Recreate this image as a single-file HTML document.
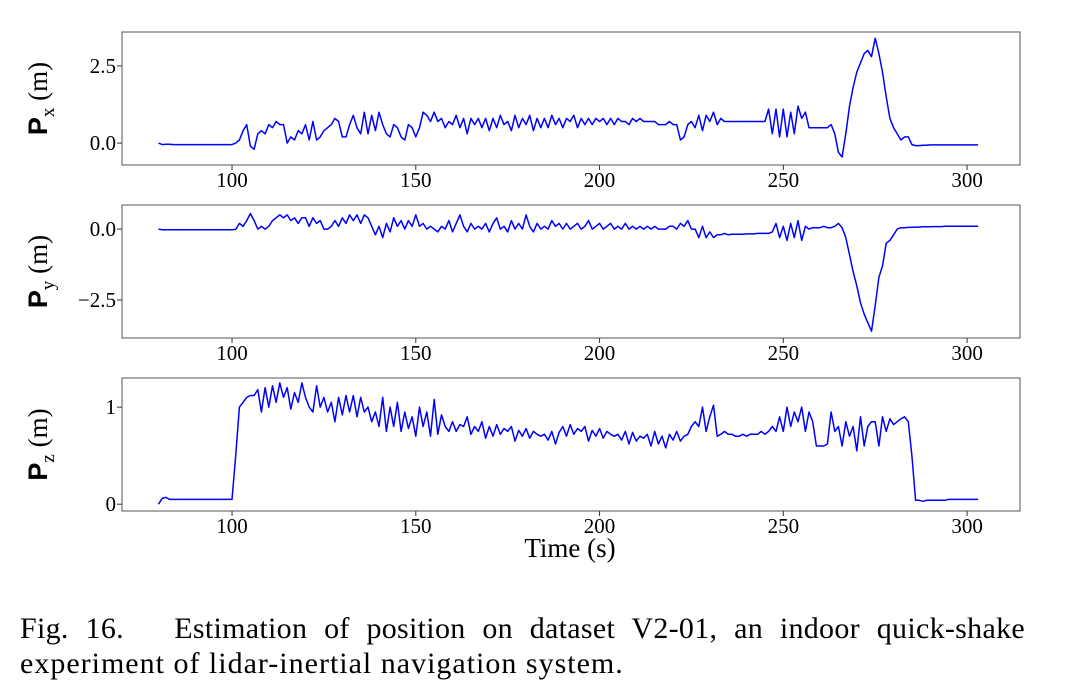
<!DOCTYPE html>
<html><head><meta charset="utf-8"><style>
body{margin:0;background:#fff;width:1074px;height:693px;overflow:hidden;font-family:"Liberation Serif",serif}
svg{position:absolute;left:0;top:0}
.cap{position:absolute;left:20px;width:1005px;font-size:30px;letter-spacing:1px;color:#000;font-family:"Liberation Serif",serif;line-height:35px}
</style></head><body>
<svg id="chart" width="1074" height="693"></svg>
<div class="cap" style="top:611px;text-align:justify;text-align-last:justify;letter-spacing:0.3px">Fig. 16.&nbsp;&nbsp; Estimation of position on dataset V2-01, an indoor quick-shake</div>
<div class="cap" style="top:646px">experiment of lidar-inertial navigation system.</div>
<script>
const tStart = 80;
const xTicks = [100,150,200,250,300];
const pxVals = [0,-0.05,-0.04,-0.04,-0.05,-0.05,-0.05,-0.05,-0.05,-0.05,
-0.05,-0.05,-0.05,-0.05,-0.05,-0.05,-0.05,-0.05,-0.05,-0.05,
-0.05,0.0,0.1,0.4,0.6,-0.1,-0.2,0.3,0.4,0.3,
0.6,0.5,0.7,0.6,0.6,0.0,0.2,0.1,0.4,0.3,
0.6,0.1,0.7,0.1,0.2,0.4,0.5,0.6,0.8,0.7,
0.2,0.2,0.6,0.9,0.5,0.3,1.0,0.3,0.9,0.4,
1.0,0.6,0.3,0.2,0.6,0.5,0.2,0.1,0.6,0.5,
0.2,0.5,1.0,0.9,0.7,1.0,0.7,0.8,0.5,0.7,
0.6,0.9,0.5,0.8,0.3,0.8,0.6,0.8,0.5,0.8,
0.4,0.8,0.5,0.9,0.6,0.7,0.4,0.9,0.5,0.8,
0.6,0.9,0.4,0.8,0.5,0.8,0.5,0.9,0.6,0.8,
0.5,0.8,0.7,0.9,0.5,0.8,0.6,0.8,0.6,0.8,
0.7,0.8,0.6,0.8,0.6,0.8,0.7,0.7,0.6,0.8,
0.7,0.8,0.7,0.7,0.7,0.7,0.6,0.6,0.6,0.7,
0.6,0.6,0.1,0.2,0.6,0.7,0.5,0.9,0.4,0.9,
0.7,1.0,0.6,0.8,0.7,0.7,0.7,0.7,0.7,0.7,
0.7,0.7,0.7,0.7,0.7,0.7,1.1,0.3,1.1,0.2,
1.1,0.2,1.0,0.3,1.2,0.8,1.0,0.5,0.5,0.5,
0.5,0.5,0.5,0.6,0.3,-0.3,-0.45,0.3,1.2,1.8,
2.3,2.6,2.9,3.0,2.8,3.4,2.9,2.3,1.5,0.8,
0.5,0.3,0.1,0.2,0.2,-0.05,-0.08,-0.08,-0.07,-0.07,
-0.06,-0.06,-0.06,-0.06,-0.06,-0.06,-0.06,-0.06,-0.06,-0.06,-0.06,-0.06,-0.06,-0.06];
const pyVals = [0,-0.02,-0.02,-0.02,-0.02,-0.02,-0.02,-0.02,-0.02,-0.02,
-0.02,-0.02,-0.02,-0.02,-0.02,-0.02,-0.02,-0.02,-0.02,-0.02,
-0.02,-0.01,0.2,0.1,0.3,0.55,0.3,0.0,0.1,0.0,
0.1,0.3,0.4,0.5,0.4,0.5,0.3,0.4,0.2,0.4,
0.4,0.1,0.4,0.2,0.3,0.0,0.0,0.1,0.3,0.1,
0.4,0.2,0.5,0.3,0.5,0.2,0.5,0.4,0.1,-0.2,
0.1,-0.3,0.2,-0.1,0.4,0.1,0.3,0.0,0.3,0.1,
0.5,0.1,0.2,0.0,0.1,0.0,-0.1,0.1,0.0,0.3,
-0.1,0.2,0.5,0.1,-0.1,0.2,0.0,0.1,0.0,0.2,
-0.1,0.2,0.4,0.0,0.1,-0.1,0.3,0.0,0.2,0.0,
0.5,0.1,-0.1,0.2,0.0,0.1,0.0,0.3,0.1,0.2,
0.0,0.2,0.0,0.1,0.2,0.0,0.1,0.3,0.0,0.1,
0.2,0.0,0.1,0.2,0.0,0.1,0.0,0.2,0.0,0.1,
0.0,0.1,0.0,0.1,0.0,0.1,0.0,0.0,0.0,0.1,
0.1,0.0,0.2,0.1,0.3,0.0,0.0,-0.3,0.1,-0.3,
-0.1,-0.3,-0.2,-0.2,-0.15,-0.2,-0.18,-0.18,-0.18,-0.18,
-0.17,-0.17,-0.17,-0.15,-0.15,-0.15,-0.15,-0.1,0.2,-0.3,
0.1,-0.4,0.2,-0.3,0.3,-0.4,0.1,0.0,0.05,0.05,
0.05,0.1,0.05,0.05,0.1,0.2,0.05,-0.3,-0.9,-1.5,
-2.0,-2.6,-3.0,-3.3,-3.6,-2.7,-1.7,-1.3,-0.5,-0.4,
-0.2,0.0,0.05,0.05,0.06,0.06,0.07,0.07,0.08,0.08,
0.08,0.09,0.09,0.09,0.1,0.1,0.1,0.1,0.1,0.1,0.1,0.1,0.1,0.1];
const pzVals = [0.0,0.06,0.07,0.05,0.05,0.05,0.05,0.05,0.05,0.05,
0.05,0.05,0.05,0.05,0.05,0.05,0.05,0.05,0.05,0.05,
0.05,0.5,1.0,1.05,1.1,1.12,1.12,1.18,0.95,1.2,
1.0,1.22,1.05,1.25,1.1,1.2,0.98,1.15,1.05,1.25,
1.1,1.0,0.95,1.22,1.0,1.1,0.95,1.05,0.85,1.1,
0.92,1.12,0.95,1.12,0.9,1.1,0.95,1.0,0.85,0.95,
0.8,1.1,0.75,1.0,0.8,1.05,0.75,0.95,0.78,0.9,
0.7,1.0,0.8,0.95,0.7,1.08,0.72,0.92,0.8,0.75,
0.85,0.75,0.82,0.8,0.9,0.72,0.8,0.75,0.85,0.68,
0.8,0.7,0.82,0.72,0.78,0.75,0.8,0.65,0.76,0.7,
0.78,0.68,0.75,0.72,0.7,0.72,0.66,0.75,0.62,0.74,
0.8,0.7,0.82,0.72,0.78,0.75,0.8,0.65,0.76,0.7,
0.78,0.68,0.75,0.72,0.7,0.72,0.66,0.75,0.62,0.74,
0.65,0.7,0.68,0.72,0.6,0.75,0.62,0.7,0.58,0.72,
0.66,0.75,0.65,0.7,0.72,0.8,0.85,0.8,1.0,0.75,
0.9,1.02,0.7,0.72,0.75,0.72,0.72,0.7,0.7,0.72,
0.7,0.72,0.72,0.72,0.75,0.72,0.75,0.8,0.75,0.9,
0.75,1.0,0.8,0.95,0.85,1.0,0.75,0.95,0.85,0.6,
0.6,0.6,0.62,0.95,0.75,0.8,0.6,0.85,0.7,0.8,
0.55,0.9,0.6,0.8,0.85,0.85,0.6,0.9,0.75,0.88,
0.82,0.85,0.88,0.9,0.85,0.5,0.04,0.04,0.03,0.04,
0.04,0.04,0.04,0.04,0.04,0.05,0.05,0.05,0.05,0.05,0.05,0.05,0.05,0.05];

const svg = document.getElementById('chart');
const NS='http://www.w3.org/2000/svg';
const X0=122, X1=1020, T0=70.06, T1=314.4;
function xs(t){return X0+(t-T0)/(T1-T0)*(X1-X0);}
function mk(tag,attrs){const e=document.createElementNS(NS,tag);for(const k in attrs)e.setAttribute(k,attrs[k]);svg.appendChild(e);return e;}

const panels=[
 {top:32,bot:165,vTop:3.6,vBot:-0.71,vals:pxVals,ticks:[2.5,0.0],labels:['2.5','0.0'],sub:'x',name:'px'},
 {top:205,bot:338,vTop:0.85,vBot:-3.84,vals:pyVals,ticks:[0.0,-2.5],labels:['0.0','\u22122.5'],sub:'y',name:'py'},
 {top:378,bot:511,vTop:1.3,vBot:-0.07,vals:pzVals,ticks:[1,0],labels:['1','0'],sub:'z',name:'pz'}
];
panels.forEach(p=>{
  const ys=v=>p.top+(p.vTop-v)/(p.vTop-p.vBot)*(p.bot-p.top);
  const fr=mk('rect',{x:X0,y:p.top,width:X1-X0,height:p.bot-p.top,fill:'none',stroke:'#555','stroke-width':1});
  
  
  xTicks.forEach(t=>{
    const l=mk('line',{x1:xs(t),x2:xs(t),y1:p.bot,y2:p.bot+5,stroke:'#333'});
    
    
    const tx=mk('text',{x:xs(t),y:p.bot+22,'text-anchor':'middle','font-size':21,'font-family':'Liberation Serif, serif'});
    tx.textContent=t;
    
    
  });
  p.ticks.forEach((v,i)=>{
    const l=mk('line',{x1:X0-5,x2:X0,y1:ys(v),y2:ys(v),stroke:'#333'});
    
    
    const tx=mk('text',{x:X0-6,y:ys(v)+7,'text-anchor':'end','font-size':21,'font-family':'Liberation Serif, serif'});
    tx.textContent=p.labels[i];
    
    
  });
  const pts=p.vals.map((v,i)=>xs(tStart+i).toFixed(1)+','+ys(v).toFixed(1)).join(' ');
  const line=mk('polyline',{points:pts,fill:'none',stroke:'#0000ff','stroke-width':1.5,'stroke-linejoin':'round'});
  
  
  const cy=(p.top+p.bot)/2;
  const yl=mk('text',{x:0,y:0,transform:`translate(47,${cy}) rotate(-90)`,'text-anchor':'middle','font-size':27,'font-family':'Liberation Serif, serif'});
  yl.innerHTML=`<tspan font-family="Liberation Sans, sans-serif" font-weight="bold">P</tspan><tspan font-size="19" dy="7">${p.sub}</tspan><tspan dy="-7"> (m)</tspan>`;
  
  
});
const xt=mk('text',{x:570,y:557,'text-anchor':'middle','font-size':27,'font-family':'Liberation Serif, serif'});
xt.textContent='Time (s)';


</script>
</body></html>
